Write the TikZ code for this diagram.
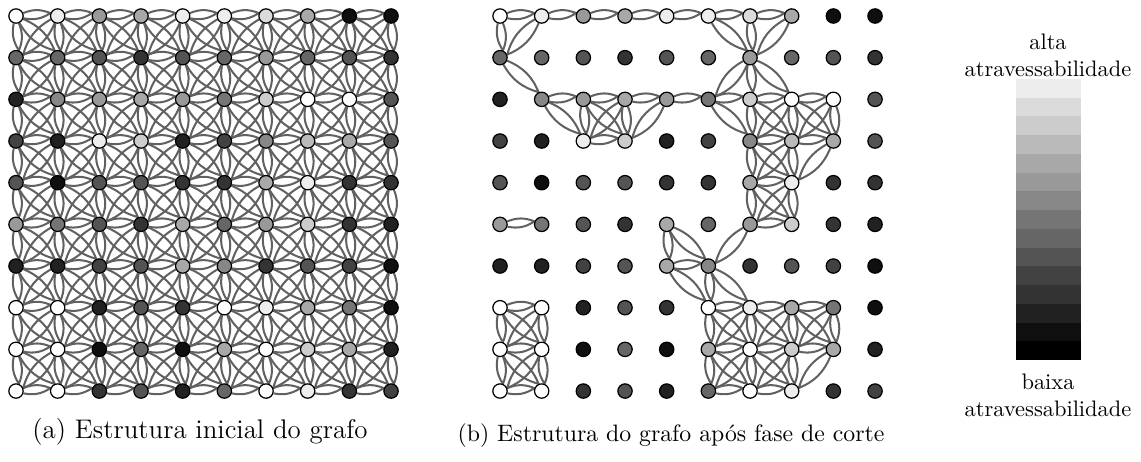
\documentclass[tikz,border=0pt]{standalone}
\usepackage{fontspec}
\usetikzlibrary{positioning}

\pgfdeclarelayer{bg}
\pgfsetlayers{bg,main}

\tikzset{
  vertex/.style={circle, draw=black, line width=0.55pt, inner sep=0pt, minimum size=6.4pt},
  edge/.style={draw=black!62, line width=0.9pt},
  caption/.style={font=\large, inner sep=0pt},
}

% double edge between two nodes
\newcommand{\lens}[2]{\draw[edge] (#1) to[bend left=22] (#2) to[bend left=22] (#1);}

\begin{document}
\begin{tikzpicture}[x=0.446pt, y=-0.446pt]
\useasboundingbox (0,0) rectangle (1141,461);

% vertices of both grids (gray level 0..15)
\foreach \row [count=\r from 0] in {
  {15,14,9,10,14,14,13,10,1,1},
  {6,6,5,3,5,6,9,6,5,3},
  {2,8,9,10,9,7,12,15,15,5},
  {4,2,14,12,2,4,8,11,10,5},
  {5,1,5,5,3,3,10,14,3,3},
  {9,7,5,3,10,6,9,12,3,2},
  {2,2,4,5,10,8,3,5,4,1},
  {15,15,2,5,3,15,14,10,7,1},
  {15,15,1,6,1,10,15,12,10,2},
  {15,15,3,5,2,6,15,14,3,4}} {
  \foreach \lvl [count=\c from 0] in \row {
    \pgfmathtruncatemacro\pc{\lvl*100/15}
    \node[vertex, fill=white!\pc!black] (a-\r-\c) at ({16+41.67*\c},{16+41.67*\r}) {};
    \node[vertex, fill=white!\pc!black] (b-\r-\c) at ({500+41.67*\c},{16+41.67*\r}) {};
    \expandafter\gdef\csname in-a-\r-\c\endcsname{}
  }
}

% vertices kept after the cut
\foreach \r/\c in {0/0,0/1,0/2,0/3,0/4,0/5,0/6,0/7,1/0,1/6,
  2/1,2/2,2/3,2/4,2/5,2/6,2/7,2/8,3/2,3/3,3/6,3/7,3/8,4/6,4/7,
  5/0,5/1,5/4,5/6,5/7,6/4,6/5,7/0,7/1,7/5,7/6,7/7,7/8,
  8/0,8/1,8/5,8/6,8/7,8/8,9/0,9/1,9/5,9/6,9/7}
  {\expandafter\gdef\csname in-b-\r-\c\endcsname{}}

\begin{pgfonlayer}{bg}
\foreach \g in {a,b} {
  \foreach \r in {0,...,9} {
    \foreach \c in {0,...,9} {
      \pgfmathtruncatemacro\rn{\r+1}
      \pgfmathtruncatemacro\cn{\c+1}
      \pgfmathtruncatemacro\cp{\c-1}
      \ifcsname in-\g-\r-\c\endcsname
        \ifcsname in-\g-\r-\cn\endcsname \lens{\g-\r-\c}{\g-\r-\cn}\fi
        \ifcsname in-\g-\rn-\c\endcsname \lens{\g-\r-\c}{\g-\rn-\c}\fi
        \ifcsname in-\g-\rn-\cn\endcsname \lens{\g-\r-\c}{\g-\rn-\cn}\fi
        \ifcsname in-\g-\rn-\cp\endcsname \lens{\g-\r-\c}{\g-\rn-\cp}\fi
      \fi
    }
  }
}
\end{pgfonlayer}

% legend
\foreach \k in {0,...,14} {
  \pgfmathtruncatemacro\pc{(14-\k)*100/15}
  \fill[white!\pc!black] (1016,{79+18.73*\k}) rectangle (1081,{79+18.73*(\k+1)});
}
\node[align=center, inner sep=0pt] (alta) at (1048,55) {alta\\atravessabilidade};
\node[align=center, inner sep=0pt] (baixa) at (1048,395) {baixa\\atravessabilidade};

% captions
\node[caption] (capa) at (200,432) {(a) Estrutura inicial do grafo};
\node[caption, font=\fontsize{10.6}{13}\selectfont] (capb) at (671,436) {(b) Estrutura do grafo após fase de corte};
\end{tikzpicture}
\end{document}
